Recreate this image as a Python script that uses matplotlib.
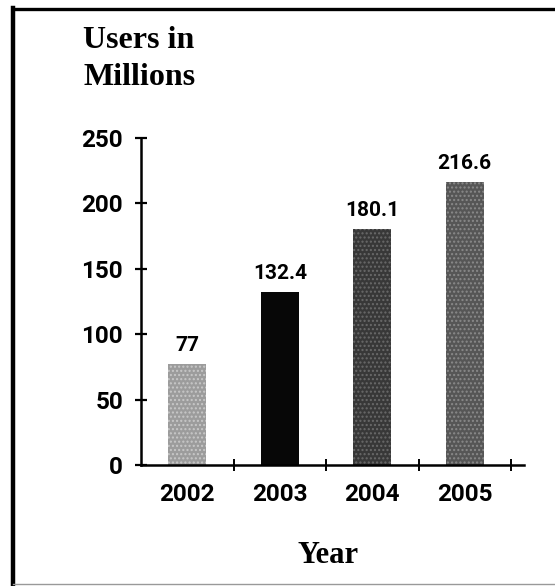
import matplotlib
matplotlib.use("Agg")
import matplotlib.pyplot as plt
from matplotlib.lines import Line2D

# data
years = ["2002", "2003", "2004", "2005"]
users = [77, 132.4, 180.1, 216.6]
value_labels = ["77", "132.4", "180.1", "216.6"]
y_ticks = [0, 50, 100, 150, 200, 250]
bar_colors = ["#9c9c9c", "#070707", "#383838", "#565656"]
hatch_colors = ["#c8c8c8", "#070707", "#6a6a6a", "#8a8a8a"]

num_font = "Roboto"
title_font = "Liberation Serif"

W, H = 555, 586
fig = plt.figure(figsize=(W / 100, H / 100), dpi=100)

# axes placed in pixel terms of the reference
left, right, bottom, top = 141, 524, 465, 138
ax = fig.add_axes([left / W, (H - bottom) / H, (right - left) / W, (bottom - top) / H])

x = list(range(len(years)))
for i in x:
    ax.bar(i, users[i], width=0.41, color=bar_colors[i], edgecolor=hatch_colors[i],
           linewidth=0, hatch="...." if i != 1 else None, zorder=2)
    ax.text(i, users[i] + 7, value_labels[i], ha="center", va="bottom",
            fontsize=15, fontweight="bold", family=num_font)

ax.set_xlim(-0.5, 3.64)
ax.set_ylim(0, 250)

for s in ["top", "right"]:
    ax.spines[s].set_visible(False)
ax.spines["left"].set_linewidth(1.8)
ax.spines["bottom"].set_linewidth(1.8)

ax.set_yticks(y_ticks)
ax.set_yticklabels([str(v) for v in y_ticks], fontsize=17.5, fontweight="bold", family=num_font)
ax.tick_params(axis="y", direction="inout", length=8, width=1.6, pad=9)

ax.set_xticks(x)
ax.set_xticklabels(years, fontsize=17.5, fontweight="bold", family=num_font)
ax.tick_params(axis="x", which="major", length=0, pad=13)
ax.set_xticks([0.5, 1.5, 2.5, 3.5], minor=True)
ax.tick_params(axis="x", which="minor", direction="inout", length=9, width=1.4)

# axis titles
fig.text(83 / W, 1 - 48 / H, "Users in", fontsize=23, fontweight="bold",
         family=title_font, va="baseline", ha="left")
fig.text(83 / W, 1 - 85 / H, "Millions", fontsize=23, fontweight="bold",
         family=title_font, va="baseline", ha="left")
fig.text(328 / W, 1 - 563 / H, "Year", fontsize=22, fontweight="bold",
         family=title_font, va="baseline", ha="center")

# frame around the figure
fig.add_artist(Line2D([13 / W, 13 / W], [0, 1 - 8 / H], color="black", lw=3.2,
                      transform=fig.transFigure))
fig.add_artist(Line2D([13 / W, 1], [1 - 9 / H, 1 - 9 / H], color="black", lw=2.4,
                      transform=fig.transFigure))
fig.add_artist(Line2D([13 / W, 1], [1 - 584 / H, 1 - 584 / H], color="#999999", lw=1.0,
                      transform=fig.transFigure))

fig.savefig("out.png", dpi=100)
